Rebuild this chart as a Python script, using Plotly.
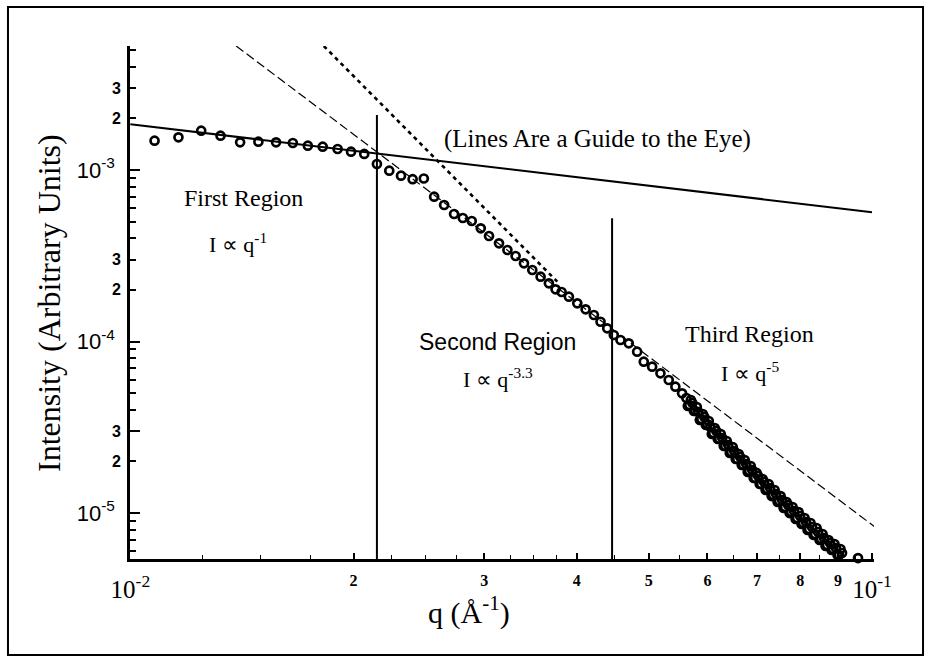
import plotly.graph_objects as go

# ---- measured scattering curve ----
q_data = [0.01078, 0.01161, 0.01246, 0.01323, 0.01406, 0.01488, 0.01572, 0.01656, 0.01735, 0.01817,
          0.01903, 0.01984, 0.02067, 0.02150, 0.02234, 0.02317, 0.02402, 0.02487, 0.02568, 0.02649,
          0.02732, 0.02807, 0.02886, 0.02968, 0.03045, 0.03141, 0.03224, 0.03307, 0.03394, 0.03483,
          0.03574, 0.03667, 0.03744, 0.03815, 0.03902, 0.04005, 0.04110, 0.04217, 0.04305, 0.04395,
          0.04486, 0.04580, 0.04699, 0.04823, 0.04923, 0.05053, 0.05185, 0.05320, 0.05431, 0.05545,
          0.05619, 0.05672, 0.05725, 0.05778, 0.05832, 0.05887, 0.05942, 0.05997, 0.06053, 0.06109,
          0.06166, 0.06224, 0.06282, 0.06340, 0.06400, 0.06459, 0.06520, 0.06581, 0.06642, 0.06704,
          0.06767, 0.06830, 0.06894, 0.06958, 0.07023, 0.07088, 0.07154, 0.07221, 0.07289, 0.07357,
          0.07425, 0.07495, 0.07565, 0.07635, 0.07707, 0.07779, 0.07851, 0.07925, 0.07999, 0.08074,
          0.08149, 0.08225, 0.08302, 0.08380, 0.08458, 0.08537, 0.08617, 0.08697, 0.08778, 0.08860,
          0.08943, 0.09026, 0.09111, 0.09196, 0.09398, 0.09575]

intensity = [1.482e-3, 1.551e-3, 1.695e-3, 1.585e-3, 1.450e-3, 1.462e-3, 1.450e-3, 1.437e-3, 1.386e-3, 1.367e-3,
             1.326e-3, 1.279e-3, 1.240e-3, 1.084e-3, 9.906e-4, 9.264e-4, 8.839e-4, 8.923e-4, 6.988e-4, 6.251e-4,
             5.539e-4, 5.248e-4, 5.041e-4, 4.571e-4, 4.122e-4, 3.738e-4, 3.416e-4, 3.152e-4, 2.858e-4, 2.612e-4,
             2.387e-4, 2.185e-4, 2.016e-4, 1.944e-4, 1.825e-4, 1.670e-4, 1.541e-4, 1.427e-4, 1.304e-4, 1.194e-4,
             1.091e-4, 1.020e-4, 9.761e-5, 8.720e-5, 7.623e-5, 7.128e-5, 6.525e-5, 5.963e-5, 5.450e-5, 4.988e-5,
             4.683e-5, 4.263e-5, 4.379e-5, 3.933e-5, 3.881e-5, 3.533e-5, 3.629e-5, 3.303e-5, 3.173e-5, 2.927e-5,
             3.007e-5, 2.701e-5, 2.737e-5, 2.458e-5, 2.492e-5, 2.268e-5, 2.299e-5, 2.065e-5, 2.121e-5, 1.905e-5,
             1.931e-5, 1.758e-5, 1.781e-5, 1.600e-5, 1.643e-5, 1.476e-5, 1.516e-5, 1.380e-5, 1.399e-5, 1.273e-5,
             1.291e-5, 1.175e-5, 1.191e-5, 1.084e-5, 1.113e-5, 1.013e-5, 1.027e-5, 9.351e-6, 9.605e-6, 8.743e-6,
             8.861e-6, 8.067e-6, 8.287e-6, 7.544e-6, 7.750e-6, 7.054e-6, 7.149e-6, 6.507e-6, 6.684e-6, 6.166e-6,
             6.249e-6, 5.689e-6, 5.844e-6, 5.390e-6, 5.318e-6, 5.463e-6]

# densely sampled high-q points (interleaved with the run above)
q_dense = [0.05645, 0.05698, 0.05752, 0.05805, 0.05859, 0.05914, 0.05970, 0.06025, 0.06081, 0.06137,
           0.06195, 0.06253, 0.06311, 0.06370, 0.06430, 0.06489, 0.06550, 0.06612, 0.06673, 0.06735,
           0.06799, 0.06862, 0.06926, 0.06990, 0.07056, 0.07121, 0.07187, 0.07255, 0.07323, 0.07391,
           0.07460, 0.07530, 0.07600, 0.07671, 0.07743, 0.07815, 0.07888, 0.07962, 0.08036, 0.08112,
           0.08187, 0.08263, 0.08341, 0.08419, 0.08497, 0.08577, 0.08657, 0.08738, 0.08819, 0.08901,
           0.08985, 0.09068, 0.09153]
intensity_dense = [4.206e-5, 4.559e-5, 3.933e-5, 4.150e-5, 3.486e-5, 3.778e-5, 3.259e-5, 3.439e-5, 2.888e-5, 3.131e-5,
                   2.701e-5, 2.888e-5, 2.458e-5, 2.629e-5, 2.238e-5, 2.425e-5, 2.065e-5, 2.208e-5, 1.905e-5, 2.037e-5,
                   1.735e-5, 1.880e-5, 1.600e-5, 1.712e-5, 1.476e-5, 1.579e-5, 1.362e-5, 1.476e-5, 1.256e-5, 1.362e-5,
                   1.159e-5, 1.256e-5, 1.070e-5, 1.159e-5, 9.995e-6, 1.084e-5, 9.226e-6, 1.013e-5, 8.626e-6, 9.351e-6,
                   7.959e-6, 8.743e-6, 7.443e-6, 8.176e-6, 6.960e-6, 7.544e-6, 6.420e-6, 6.960e-6, 6.084e-6, 6.595e-6,
                   5.689e-6, 6.166e-6, 5.390e-6]

# ---- guide lines (end points) ----
flat_q, flat_i = [0.0100, 0.1000], [1.849e-3, 5.676e-4]          # low-q guide
dash_q, dash_i = [0.01389, 0.1008], [5.284e-3, 8.321e-6]         # intermediate guide
dot_q, dot_i = [0.01823, 0.03764], [5.284e-3, 2.232e-4]          # steep guide

# ---- region boundaries ----
y_floor = 5.39e-6
bound1_q, bound1_top = 0.02150, 2.093e-3
bound2_q, bound2_top = 0.04462, 5.228e-4

# ---- axis ticks ----
y_major = [1e-5, 1e-4, 1e-3]
y_major_text = ["10<sup>-5</sup>", "10<sup>-4</sup>", "10<sup>-3</sup>"]
y_sub = [2e-5, 3e-5, 2e-4, 3e-4, 2e-3, 3e-3]
y_sub_text = ["2", "3", "2", "3", "2", "3"]
y_minor = [k * 10.0 ** e for e in (-6, -5, -4, -3) for k in range(1, 10)]

x_major = [0.01, 0.1]
x_major_text = ["10<sup>-2</sup>", "10<sup>-1</sup>"]
x_sub = [0.02, 0.03, 0.04, 0.05, 0.06, 0.07, 0.08, 0.09]
x_sub_text = ["2", "3", "4", "5", "6", "7", "8", "9"]
x_minor = [0.0125, 0.015, 0.0175, 0.0225, 0.025, 0.0275, 0.0325, 0.035, 0.0375,
           0.045, 0.055, 0.065, 0.075, 0.085, 0.095]

X_RANGE = [-2.0005, -0.9973]
Y_RANGE = [-5.2682, -2.2770]

SERIF = "Liberation Serif, Times New Roman, serif"
SANS = "Liberation Sans, Arial, sans-serif"

fig = go.Figure()

fig.add_trace(go.Scatter(x=flat_q, y=flat_i, mode="lines",
                         line=dict(color="black", width=2), hoverinfo="skip"))
fig.add_trace(go.Scatter(x=dash_q, y=dash_i, mode="lines",
                         line=dict(color="black", width=1.2, dash="9px,4px"), hoverinfo="skip"))
fig.add_trace(go.Scatter(x=dot_q, y=dot_i, mode="lines",
                         line=dict(color="black", width=2.6, dash="4px,4px"), hoverinfo="skip"))
fig.add_trace(go.Scatter(x=[bound1_q, bound1_q], y=[bound1_top, y_floor], mode="lines",
                         line=dict(color="black", width=2), hoverinfo="skip"))
fig.add_trace(go.Scatter(x=[bound2_q, bound2_q], y=[bound2_top, y_floor], mode="lines",
                         line=dict(color="black", width=2), hoverinfo="skip"))
fig.add_trace(go.Scatter(x=q_data + q_dense, y=intensity + intensity_dense, mode="markers",
                         cliponaxis=False,
                         marker=dict(symbol="circle-open", size=8, color="black",
                                     line=dict(width=2.7, color="black"))))
# carrier for the overlaid label axes
fig.add_trace(go.Scatter(x=[], y=[], xaxis="x2", yaxis="y2", hoverinfo="skip"))

notes = [
    ("(Lines Are a Guide to the Eye)", 0.6277, 0.8187, SERIF, 25),
    ("First Region", 0.1519, 0.7037, SERIF, 24),
    ("I ∝ q<sup>-1</sup>", 0.1452, 0.616, SERIF, 22),
    ("Second Region", 0.4933, 0.423, SANS, 23),
    ("I ∝ q<sup>-3.3</sup>", 0.4946, 0.3528, SERIF, 22),
    ("Third Region", 0.8333, 0.4386, SERIF, 24),
    ("I ∝ q<sup>-5</sup>", 0.8333, 0.3645, SERIF, 22),
]
for text, xp, yp, fam, sz in notes:
    fig.add_annotation(text=text, x=xp, y=yp, xref="paper", yref="paper", showarrow=False,
                       xanchor="center", yanchor="middle",
                       font=dict(family=fam, size=sz, color="black"))

# axis titles
fig.add_annotation(text="Intensity (Arbitrary Units)", x=-0.1089, y=0.499, xref="paper", yref="paper",
                   showarrow=False, textangle=-90, xanchor="center", yanchor="middle",
                   font=dict(family=SERIF, size=32, color="black"))
fig.add_annotation(text="q (Å<sup>-1</sup>)", x=0.4556, y=-0.1, xref="paper", yref="paper",
                   showarrow=False, xanchor="center", yanchor="middle",
                   font=dict(family=SERIF, size=30, color="black"))

# outer frame
fig.add_shape(type="rect", xref="paper", yref="paper", x0=-0.164, x1=1.0659, y0=-0.1871, y1=1.076,
              line=dict(color="black", width=2))

fig.update_layout(
    width=926, height=658, margin=dict(l=130, r=52, t=46, b=99),
    plot_bgcolor="white", paper_bgcolor="white", showlegend=False,
    xaxis=dict(type="log", range=X_RANGE, showline=True, linecolor="black", linewidth=2.5,
               ticks="inside", ticklen=6, tickwidth=1.5, tickcolor="black",
               tickvals=x_major + x_sub, ticktext=x_major_text + [""] * len(x_sub),
               ticklabelstandoff=6, tickfont=dict(family=SERIF, size=25, color="black"),
               minor=dict(ticks="inside", ticklen=4, tickwidth=1.2, tickcolor="black", tickvals=x_minor),
               showgrid=False, zeroline=False),
    xaxis2=dict(type="log", range=X_RANGE, overlaying="x", anchor="y", side="bottom",
                showline=False, ticks="", tickvals=x_sub, ticktext=x_sub_text,
                ticklabelstandoff=10,
                tickfont=dict(family=SERIF, size=16, color="black", weight="bold"),
                showgrid=False, zeroline=False),
    yaxis=dict(type="log", range=Y_RANGE, showline=True, linecolor="black", linewidth=2.5,
               ticks="inside", ticklen=10, tickwidth=2, tickcolor="black",
               tickvals=y_major + y_sub, ticktext=y_major_text + [""] * len(y_sub),
               ticklabelstandoff=8, tickfont=dict(family=SANS, size=22, color="black"),
               minor=dict(ticks="inside", ticklen=6, tickwidth=1.5, tickcolor="black", tickvals=y_minor),
               showgrid=False, zeroline=False),
    yaxis2=dict(type="log", range=Y_RANGE, overlaying="y", anchor="x", side="left",
                showline=False, ticks="", tickvals=y_sub, ticktext=y_sub_text,
                ticklabelstandoff=8,
                tickfont=dict(family=SANS, size=16, color="black", weight="bold"),
                showgrid=False, zeroline=False),
)

fig.write_html("out.html")
